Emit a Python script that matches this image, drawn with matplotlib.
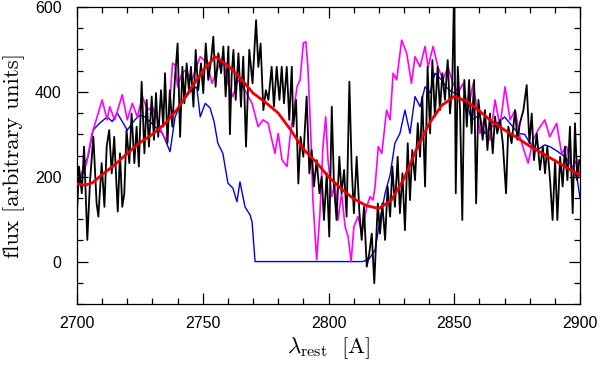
import matplotlib
matplotlib.use("Agg")
import matplotlib.pyplot as plt
from matplotlib.ticker import MultipleLocator

# ---------------- data ----------------
black_wl = [2700.0, 2700.8, 2701.9, 2702.8, 2704.1, 2705.2, 2706.5, 2707.8, 2708.5, 2709.8,
            2710.9, 2711.8, 2712.8, 2713.8, 2714.8, 2716.2, 2717.1, 2718.0, 2718.8, 2719.7,
            2720.8, 2721.7, 2722.8, 2723.7, 2724.6, 2725.7, 2726.8, 2727.7, 2728.6, 2729.7,
            2730.6, 2731.4, 2732.3, 2733.4, 2734.3, 2735.0, 2736.0, 2736.9, 2737.9, 2738.9,
            2740.0, 2741.0, 2741.9, 2742.7, 2743.6, 2744.5, 2745.3, 2746.3, 2747.2, 2748.2,
            2749.3, 2750.2, 2751.2, 2752.2, 2753.3, 2754.2, 2755.1, 2756.2, 2757.3, 2758.2,
            2759.1, 2760.2, 2760.8, 2761.5, 2762.2, 2763.1, 2764.2, 2765.2, 2766.1, 2767.2,
            2768.5, 2769.8, 2771.2, 2772.1, 2773.0, 2774.1, 2775.1, 2776.1, 2777.4, 2778.3,
            2779.4, 2780.5, 2781.4, 2782.3, 2783.4, 2784.4, 2785.4, 2786.0, 2787.1, 2788.0,
            2788.9, 2790.0, 2791.3, 2792.4, 2793.3, 2794.2, 2795.3, 2796.4, 2797.3, 2798.2,
            2799.3, 2800.3, 2801.3, 2802.2, 2803.2, 2804.3, 2805.2, 2806.2, 2807.2, 2808.3,
            2809.2, 2810.1, 2811.2, 2812.3, 2813.2, 2814.1, 2815.2, 2816.2, 2817.2, 2818.2,
            2819.6, 2820.5, 2821.4, 2822.5, 2823.5, 2824.5, 2825.4, 2826.4, 2827.5, 2828.4,
            2829.4, 2830.4, 2831.5, 2832.4, 2833.3, 2834.4, 2835.5, 2836.4, 2837.3, 2838.4,
            2839.4, 2840.4, 2841.3, 2842.3, 2843.4, 2844.3, 2845.3, 2846.3, 2847.4, 2848.3,
            2849.2, 2850.0, 2850.6, 2851.4, 2852.3, 2853.2, 2854.0, 2855.0, 2855.9, 2856.9,
            2857.9, 2858.7, 2859.6, 2861.3, 2862.2, 2863.2, 2864.2, 2865.3, 2866.2, 2867.1,
            2868.2, 2869.3, 2870.6, 2871.5, 2872.8, 2874.2, 2875.1, 2876.1, 2877.5, 2878.8,
            2879.9, 2880.8, 2881.7, 2882.8, 2884.1, 2885.2, 2886.1, 2887.0, 2888.1, 2889.1,
            2890.1, 2891.0, 2892.1, 2893.1, 2894.0, 2895.0, 2896.0, 2897.1, 2898.0, 2898.9,
            2899.7]
black_flux = [114, 224, 161, 271, 51, 192, 294, 137, 106, 232,
              129, 271, 310, 208, 294, 118, 255, 129, 160, 310,
              232, 349, 232, 318, 224, 424, 255, 381, 271, 389,
              287, 397, 294, 404, 318, 444, 280, 404, 318, 428,
              514, 294, 459, 373, 467, 404, 459, 365, 499, 404,
              467, 397, 514, 428, 475, 530, 412, 491, 444, 507,
              389, 507, 300, 440, 499, 381, 491, 365, 483, 271,
              499, 420, 569, 459, 514, 357, 404, 381, 459, 365,
              459, 381, 459, 373, 459, 334, 459, 318, 381, 184,
              294, 247, 389, 208, 263, 177, 239, 161, 200, 98,
              208, 59, 365, 177, 98, 247, 161, 216, 106, 424,
              224, 114, 247, 114, 51, 129, -12, 19, 66, -51,
              137, 66, 137, 51, 177, 106, 224, 129, 247, 114,
              208, 74, 279, 145, 263, 192, 326, 247, 389, 177,
              459, 302, 475, 342, 459, 357, 444, 381, 475, 349,
              412, 660, 161, 459, 357, 98, 428, 318, 428, 302,
              428, 137, 381, 287, 357, 263, 349, 255, 342, 302,
              334, 279, 161, 318, 279, 357, 287, 326, 357, 416,
              279, 349, 239, 302, 216, 271, 208, 271, 192, 98,
              239, 98, 247, 177, 271, 192, 318, 114, 326, 192,
              239]

magenta_wl = [2700.4, 2702.4, 2703.8, 2706.0, 2708.0, 2710.0, 2712.0, 2713.0, 2715.0, 2718.0,
              2720.0, 2722.0, 2724.0, 2726.0, 2728.0, 2730.0, 2732.0, 2734.0, 2735.6, 2736.5,
              2738.0, 2739.0, 2740.0, 2741.5, 2743.0, 2745.7, 2749.0, 2751.7, 2753.7, 2755.7,
              2758.0, 2760.0, 2762.0, 2764.0, 2766.8, 2769.6, 2772.0, 2774.0, 2776.0, 2778.7,
              2780.0, 2781.5, 2783.5, 2784.7, 2786.0, 2787.5, 2788.7, 2790.0, 2791.0, 2791.8,
              2793.0, 2793.8, 2795.3, 2796.6, 2797.8, 2798.9, 2799.8, 2801.3, 2802.6, 2803.8,
              2805.2, 2806.6, 2807.8, 2809.0, 2810.1, 2811.7, 2813.3, 2815.2, 2816.5, 2817.7,
              2818.5, 2819.8, 2821.2, 2823.1, 2824.5, 2825.7, 2827.1, 2829.1, 2831.1, 2833.0,
              2834.4, 2836.4, 2838.4, 2839.6, 2841.6, 2843.5, 2845.5, 2847.5, 2849.5, 2851.5,
              2853.5, 2855.5, 2857.5, 2859.5, 2860.2, 2862.0, 2864.2, 2866.2, 2868.2, 2870.2,
              2872.2, 2874.2, 2876.1, 2878.1, 2879.4, 2881.3, 2883.3, 2886.0, 2888.0, 2890.7,
              2892.7, 2894.7, 2896.7, 2898.7, 2900.0]
magenta_flux = [200, 208, 232, 302, 341, 381, 334, 365, 334, 393,
                334, 373, 341, 389, 357, 365, 334, 300, 286, 341,
                468, 463, 412, 440, 451, 428, 483, 468, 420, 451,
                483, 420, 389, 428, 404, 373, 318, 334, 326, 255,
                302, 240, 224, 294, 350, 412, 428, 515, 518, 459,
                294, 145, 4, 114, 271, 341, 240, 153, 185, 98,
                161, 82, 59, 0, 82, 106, 67, 129, 153, 145,
                176, 271, 255, 357, 334, 444, 428, 522, 491, 420,
                483, 459, 507, 459, 507, 459, 428, 459, 420, 397,
                420, 357, 420, 341, 302, 334, 286, 381, 318, 412,
                334, 357, 294, 255, 232, 286, 310, 334, 294, 326,
                255, 271, 216, 240, 200]

blue_wl = [2700.3, 2701.5, 2703.0, 2704.4, 2706.4, 2709.0, 2712.0, 2714.0, 2716.0, 2718.0,
           2720.0, 2723.0, 2725.0, 2727.0, 2729.0, 2731.0, 2734.0, 2737.0, 2739.0, 2741.0,
           2743.0, 2745.0, 2747.6, 2749.0, 2751.0, 2752.9, 2754.5, 2756.0, 2758.0, 2760.0,
           2762.0, 2763.6, 2764.8, 2766.8, 2768.8, 2769.6, 2770.8, 2813.5, 2816.0, 2818.5,
           2820.5, 2822.5, 2824.5, 2826.4, 2828.4, 2830.4, 2832.4, 2834.4, 2836.4, 2838.4,
           2840.4, 2842.3, 2845.0, 2847.0, 2849.0, 2851.0, 2853.0, 2855.0, 2857.0, 2860.0,
           2862.0, 2865.0, 2868.0, 2870.0, 2873.0, 2875.5, 2878.0, 2880.0, 2883.0, 2886.0,
           2888.0, 2891.0, 2894.0, 2897.0, 2899.0, 2900.0]
blue_flux = [170, 200, 232, 247, 310, 326, 341, 330, 350, 330,
             310, 334, 345, 341, 330, 318, 302, 259, 341, 369,
             385, 400, 412, 341, 373, 362, 330, 279, 255, 185,
             173, 141, 188, 129, 110, 94, 0, 0, 5, 27,
             98, 161, 204, 279, 302, 357, 302, 389, 365, 412,
             397, 444, 428, 410, 400, 395, 381, 370, 334, 345,
             302, 318, 330, 341, 320, 302, 300, 280, 263, 275,
             271, 260, 247, 224, 190, 150]

red_wl = [2700, 2703, 2706, 2710, 2715, 2720, 2725, 2730, 2735, 2740,
          2745, 2750, 2755, 2760, 2765, 2770, 2775, 2780, 2785, 2790,
          2795, 2800, 2805, 2810, 2815, 2820, 2825, 2830, 2835, 2840,
          2845, 2850, 2855, 2860, 2865, 2870, 2875, 2880, 2885, 2890,
          2895, 2900]
red_flux = [183, 180, 185, 205, 228, 255, 280, 300, 325, 360,
            405, 450, 483, 462, 432, 397, 375, 350, 310, 265,
            235, 200, 172, 148, 132, 125, 145, 195, 265, 325,
            368, 389, 378, 355, 330, 310, 292, 272, 255, 238,
            220, 204]

x_ticks = [2700, 2750, 2800, 2850, 2900]
y_ticks = [0, 200, 400, 600]

# ---------------- figure ----------------
plt.rcParams['mathtext.fontset'] = 'cm'
plt.rcParams['axes.formatter.use_mathtext'] = False
fig = plt.figure(figsize=(6.0, 3.72), dpi=100)
ax = fig.add_axes([77/600, 1-304/372, (580-77)/600, (304-7)/372])

ax.plot(blue_wl, blue_flux, color='#0000ee', lw=1.0, zorder=2)
ax.plot(magenta_wl, magenta_flux, color='#ff00ff', lw=1.2, zorder=3)
ax.plot(black_wl, black_flux, color='black', lw=1.3, zorder=4)
ax.plot(red_wl, red_flux, color='#ee0000', lw=2.0, zorder=5)

ax.set_xlim(2700, 2900)
ax.set_ylim(-100, 600)
ax.set_xticks(x_ticks)
ax.set_yticks(y_ticks)
ax.xaxis.set_minor_locator(MultipleLocator(10))
ax.yaxis.set_minor_locator(MultipleLocator(50))
ax.tick_params(which='both', direction='in', top=True, right=True, width=0.9)
ax.tick_params(which='major', length=8)
ax.tick_params(which='minor', length=4.5)
ax.tick_params(axis='x', which='major', pad=9)
ax.tick_params(axis='y', which='major', pad=11)
for lab in ax.get_xticklabels() + ax.get_yticklabels():
    lab.set_family('Liberation Sans')
    lab.set_fontsize(11.5)
for s in ax.spines.values():
    s.set_linewidth(0.9)

ax.set_ylabel('flux [arbitrary units]', family='cmr10', fontsize=16.5, labelpad=7)
ax.set_xlabel(r'$\lambda_{\mathrm{rest}}\ \ [\mathrm{A}]$', fontsize=16.5, labelpad=3)

fig.savefig('out.png', dpi=100)
